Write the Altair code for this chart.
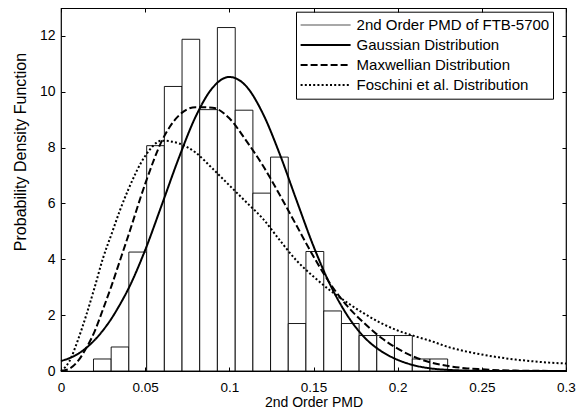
import altair as alt
import pandas as pd

# ---- data ----
bin_edges = [0.0193, 0.0298, 0.0403, 0.0509, 0.0614, 0.0719, 0.0824, 0.0929,
             0.1035, 0.1140, 0.1245, 0.1350, 0.1455, 0.1561, 0.1666, 0.1771,
             0.1876, 0.1981, 0.2087, 0.2192, 0.2297]
bar_heights = [0.43, 0.86, 4.26, 8.07, 10.19, 11.88, 9.36, 12.30, 9.34, 6.37,
               7.66, 1.70, 4.28, 2.15, 1.70, 1.27, 1.27, 1.27, 0.43, 0.43]

x_pts = [0.0, 0.005, 0.01, 0.015, 0.02, 0.025, 0.03, 0.035, 0.04, 0.05, 0.06,
         0.07, 0.08, 0.09, 0.10, 0.11, 0.12, 0.13, 0.14, 0.15, 0.16, 0.17,
         0.18, 0.19, 0.20, 0.21, 0.22, 0.23, 0.24, 0.25, 0.26, 0.27, 0.28,
         0.29, 0.30]
gauss = [0.36, 0.46, 0.61, 0.83, 1.11, 1.46, 1.88, 2.38, 2.94, 4.33, 5.97,
         7.63, 9.11, 10.14, 10.53, 10.20, 9.21, 7.76, 6.10, 4.47, 3.08, 2.00,
         1.22, 0.72, 0.40, 0.20, 0.09, 0.04, 0.015, 0.005, 0.0, 0.0, 0.0,
         0.0, 0.0]
maxwell = [0.0, 0.08, 0.35, 0.82, 1.42, 2.22, 3.05, 3.95, 4.85, 6.70, 8.25,
           9.15, 9.45, 9.43, 9.05, 8.25, 7.35, 6.30, 5.20, 4.10, 3.12, 2.33,
           1.72, 1.20, 0.80, 0.50, 0.30, 0.18, 0.10, 0.06, 0.03, 0.015, 0.008,
           0.004, 0.002]
foschini = [0.0, 0.35, 1.10, 2.00, 3.00, 4.05, 4.90, 5.75, 6.50, 7.70, 8.25,
            8.15, 7.82, 7.25, 6.65, 6.05, 5.45, 4.68, 3.95, 3.38, 2.88, 2.45,
            2.06, 1.72, 1.45, 1.25, 1.07, 0.86, 0.71, 0.59, 0.49, 0.41, 0.35,
            0.30, 0.27]

series_names = ["2nd Order PMD of FTB-5700", "Gaussian Distribution",
                "Maxwellian Distribution", "Foschini et al. Distribution"]
x_ticks = [0, 0.05, 0.1, 0.15, 0.2, 0.25, 0.3]
y_ticks = [0, 2, 4, 6, 8, 10, 12]

# ---- tables ----
bars_df = pd.DataFrame({
    "left": bin_edges[:-1],
    "right": bin_edges[1:],
    "height": bar_heights,
    "base": [0.0] * len(bar_heights),
})
lines_df = pd.concat([
    pd.DataFrame({"x": x_pts, "y": gauss, "series": series_names[1]}),
    pd.DataFrame({"x": x_pts, "y": maxwell, "series": series_names[2]}),
    pd.DataFrame({"x": x_pts, "y": foschini, "series": series_names[3]}),
], ignore_index=True)

FONT = "Liberation Sans"
xscale = alt.Scale(domain=[0, 0.3], nice=False, zero=False)
yscale = alt.Scale(domain=[0, 13], nice=False, zero=False)

tick_common = dict(offset=-4, tickSize=4, tickColor="black", tickWidth=1,
                   domain=False, grid=False, zindex=1, labelOverlap=False)

axis_bottom = alt.Axis(orient="bottom", values=x_ticks, format="~g",
                       title="2nd Order PMD", labelFont=FONT, labelFontSize=13.5,
                       labelColor="black", labelPadding=9, labelFlush=False,
                       titleFont=FONT, titleFontSize=14, titleFontWeight="normal",
                       titleColor="black", titleY=39.5, titleBaseline="alphabetic",
                       **tick_common)
axis_left = alt.Axis(orient="left", values=y_ticks, format="d",
                     title="Probability Density Function", labelFont=FONT,
                     labelFontSize=14, labelColor="black", labelPadding=6,
                     titleFont=FONT, titleFontSize=16, titleFontWeight="normal",
                     titleColor="black", titleAngle=270, titleX=-45, titleY=143.5,
                     titleAlign="center", titleBaseline="middle", **tick_common)
axis_top = alt.Axis(orient="top", values=x_ticks, labels=False, title=None,
                    **tick_common)
axis_right = alt.Axis(orient="right", values=y_ticks, labels=False, title=None,
                      **tick_common)

legend = alt.Legend(
    orient="none", legendX=235, legendY=3.7, title=None,
    symbolType="stroke", symbolSize=2500, symbolStrokeWidth=2,
    clipHeight=19.4, rowPadding=0, padding=3.6,
    labelFont=FONT, labelFontSize=15, labelColor="black", labelOffset=5,
    labelLimit=400, strokeColor="black", fillColor="white",
)

bars = alt.Chart(bars_df).mark_rect(fill="white", stroke="black", strokeWidth=0.9).encode(
    x=alt.X("left:Q", scale=xscale, axis=axis_top),
    x2="right:Q",
    y=alt.Y("height:Q", scale=yscale, axis=axis_right),
    y2="base:Q",
)

lines = alt.Chart(lines_df).mark_line(interpolate="monotone", strokeWidth=2).encode(
    x=alt.X("x:Q", scale=xscale, axis=axis_bottom),
    y=alt.Y("y:Q", scale=yscale, axis=axis_left),
    color=alt.Color("series:N", legend=legend,
                    scale=alt.Scale(domain=series_names,
                                    range=["#a8a8a8", "black", "black", "black"])),
    strokeDash=alt.StrokeDash("series:N", legend=legend,
                              scale=alt.Scale(domain=series_names,
                                              range=[[1, 0], [1, 0], [7, 3], [2, 2.2]])),
)

chart = alt.layer(bars, lines).resolve_axis(
    x="independent", y="independent"
).properties(
    width=505, height=363,
    padding={"left": 53, "top": 0, "right": 10, "bottom": 41},
    autosize=alt.AutoSizeParams(type="none"),
    background="white",
).configure_view(stroke="black", strokeWidth=1.2)

chart.save("out.html", embed_options={"renderer": "svg", "actions": False})
